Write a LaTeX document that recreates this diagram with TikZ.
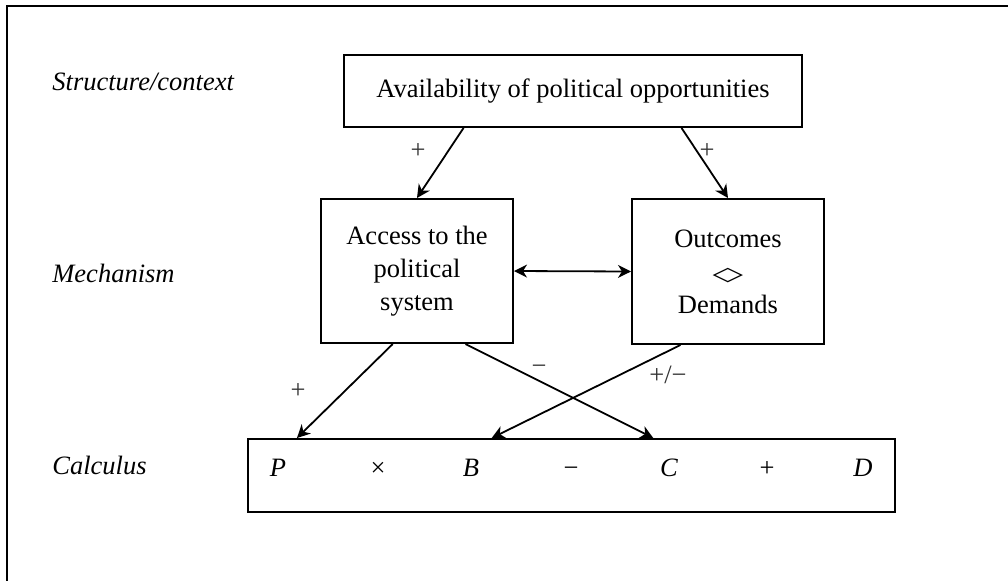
\documentclass[tikz,border=0pt]{standalone}
\usepackage{fontspec}
\usepackage{graphicx}
\setmainfont{Liberation Serif}
\newfontfamily\symfont{DejaVu Sans}
\usetikzlibrary{arrows.meta,calc}

\begin{document}
\begin{tikzpicture}[x=0.5pt,y=-0.5pt]
    \tikzset{%
        >={Stealth[length=6.5pt,width=6.5pt,inset=2pt]}, % arrow heads
        every node/.style={font=\fontsize{13.25}{16.5}\selectfont,inner sep=0pt},
        box/.style={draw,line width=1pt,align=center},
        link/.style={->,line width=0.9pt},
        rowname/.style={anchor=west,font=\fontsize{13.25}{16.5}\selectfont\itshape},
        term/.style={anchor=base},
        sign/.style={anchor=base,text=black!80}
    }
    %% page and outer frame

    \useasboundingbox (0,0) rectangle (1008,580);
    \clip (0,0) rectangle (1008,580);
    \draw[line width=1pt] (7,600) -- (7,6) -- (1030,6);

    %% row names

    \node[rowname] (rowA) at (52,82) {Structure/context};
    \node[rowname] (rowB) at (52,273) {Mechanism};
    \node[rowname] (rowC) at (52,465) {Calculus};

    %% boxes

    \node[box,minimum width=229pt,minimum height=36pt] (avail) at (573,91)
        {Availability of political opportunities};
    \node[box,minimum width=96pt,minimum height=72pt] (access) at (417,271)
        {Access to the\\political\\system};
    \node[box,minimum width=96pt,minimum height=72.5pt] (outcome) at (728,271.5)
        {Outcomes\\{\symfont\scalebox{1.5}[0.72]{◇}}\\Demands};
    \node[box,minimum width=323.5pt,minimum height=36.5pt] (calc) at (571.5,475.5) {};

    %% terms of the calculus

    \node[term] (tP) at (278,476) {\textit{P}};
    \node[term] (tTimes) at (378,476) {×};
    \node[term] (tB) at (471,476) {\textit{B}};
    \node[term] (tMinus) at (571,476) {−};
    \node[term] (tC) at (669,476) {\textit{C}};
    \node[term] (tPlus) at (767,476) {+};
    \node[term] (tD) at (863,476) {\textit{D}};

    %% links

    \draw[link] ($(avail.south west)!0.262!(avail.south east)$) -- (access.north);
    \draw[link] ($(avail.south west)!0.736!(avail.south east)$) -- (outcome.north);
    \draw[<->,line width=0.9pt] (access.east) -- (outcome.west);
    \draw[link] ($(access.south west)!0.375!(access.south east)$)
        -- ($(calc.north west)!0.077!(calc.north east)$);
    \draw[link] ($(access.south west)!0.75!(access.south east)$)
        -- ($(calc.north west)!0.626!(calc.north east)$);
    \draw[link] ($(outcome.south west)!0.255!(outcome.south east)$)
        -- ($(calc.north west)!0.377!(calc.north east)$);

    %% signs on the links

    \node[sign] (sA) at (418,158) {+};
    \node[sign] (sB) at (707,158) {+};
    \node[sign] (sC) at (298,398) {+};
    \node[sign] (sD) at (539,374) {−};
    \node[sign] (sE) at (668,383) {+/−};
\end{tikzpicture}
\end{document}
